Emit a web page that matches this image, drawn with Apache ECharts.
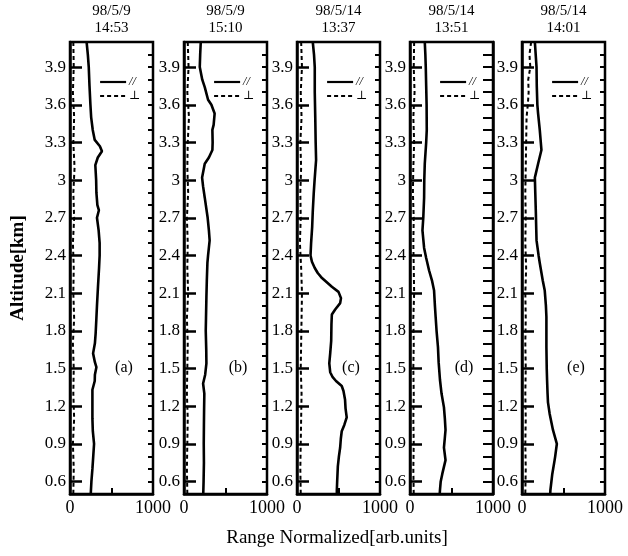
<!DOCTYPE html>
<html>
<head>
<meta charset="utf-8">
<script src="https://cdn.jsdelivr.net/npm/echarts@6/dist/echarts.min.js"></script>
<style>
  html, body { margin: 0; padding: 0; background: #fff; }
  #chart { width: 628px; height: 556px; }
</style>
</head>
<body>
<div id="chart"></div>
<script>
// Lidar return profiles: altitude [km] vs range-normalized signal [arb. units]
const panelDates = ['98/5/9', '98/5/9', '98/5/14', '98/5/14', '98/5/14'];
const panelTimes = ['14:53', '15:10', '13:37', '13:51', '14:01'];
const panelTags = ['(a)', '(b)', '(c)', '(d)', '(e)'];
const altTicks = [0.6, 0.9, 1.2, 1.5, 1.8, 2.1, 2.4, 2.7, 3, 3.3, 3.6, 3.9];
const signalTicks = [0, 1000];
const seriesNames = ['//', '\u22A5'];

// parallel channel: [altitude, signal]
const paraA = [[4.1,200],[4.0,215],[3.9,226],[3.75,235],[3.6,246],[3.5,255],[3.4,274],[3.32,298],[3.27,360],[3.23,385],[3.18,335],[3.12,305],[3.0,315],[2.9,318],[2.8,330],[2.76,348],[2.7,325],[2.6,345],[2.5,357],[2.4,357],[2.3,350],[2.15,337],[2.0,325],[1.9,318],[1.78,309],[1.7,300],[1.62,278],[1.55,300],[1.51,318],[1.45,300],[1.4,298],[1.33,270],[1.25,270],[1.1,270],[1.0,275],[0.9,290],[0.8,280],[0.7,270],[0.6,258],[0.5,250]];
const paraB = [[4.1,202],[4.0,195],[3.9,190],[3.8,220],[3.74,250],[3.64,290],[3.6,330],[3.53,369],[3.44,357],[3.4,342],[3.3,345],[3.24,342],[3.18,300],[3.13,250],[3.02,218],[2.95,230],[2.86,250],[2.7,285],[2.6,300],[2.52,309],[2.4,290],[2.34,282],[2.2,275],[2.07,270],[1.9,265],[1.8,262],[1.65,268],[1.54,270],[1.45,255],[1.38,230],[1.3,245],[1.17,242],[1.05,240],[0.9,238],[0.75,240],[0.6,236],[0.5,232]];
const paraC = [[4.1,190],[4.0,205],[3.9,214],[3.7,214],[3.5,220],[3.3,225],[3.16,230],[3.0,212],[2.9,202],[2.75,190],[2.63,183],[2.5,170],[2.4,163],[2.35,180],[2.3,214],[2.26,250],[2.22,301],[2.15,420],[2.11,500],[2.06,530],[2.02,520],[1.97,460],[1.93,420],[1.85,415],[1.72,412],[1.62,400],[1.54,389],[1.47,400],[1.43,430],[1.4,470],[1.36,539],[1.32,560],[1.25,579],[1.18,585],[1.11,599],[1.05,570],[1.0,539],[0.94,528],[0.87,520],[0.8,505],[0.72,492],[0.6,484],[0.53,480],[0.5,480]];
const paraD = [[4.1,178],[4.0,185],[3.9,190],[3.75,195],[3.6,200],[3.4,202],[3.3,195],[3.13,178],[3.0,172],[2.86,170],[2.7,160],[2.6,150],[2.46,170],[2.38,195],[2.28,230],[2.2,265],[2.12,290],[2.0,300],[1.91,309],[1.8,320],[1.67,337],[1.55,345],[1.41,361],[1.3,380],[1.19,409],[1.1,420],[1.01,428],[0.95,420],[0.87,409],[0.77,428],[0.66,389],[0.6,370],[0.53,361],[0.5,358]];
const paraE = [[4.1,155],[4.0,165],[3.9,175],[3.75,178],[3.6,185],[3.53,194],[3.4,214],[3.24,234],[3.13,194],[3.02,155],[2.9,160],[2.74,167],[2.6,172],[2.52,175],[2.4,200],[2.34,214],[2.2,250],[2.12,274],[2.0,288],[1.91,294],[1.67,294],[1.5,298],[1.41,302],[1.3,308],[1.23,313],[1.14,333],[1.01,373],[0.9,420],[0.8,400],[0.77,393],[0.66,365],[0.53,342],[0.5,340]];

// perpendicular channel: [altitude, signal]
const perpA = [[4.1,40],[3.9,45],[3.7,35],[3.5,50],[3.3,40],[3.1,55],[2.9,40],[2.7,50],[2.5,35],[2.3,45],[2.1,40],[1.9,50],[1.7,35],[1.5,45],[1.3,40],[1.1,50],[0.9,35],[0.7,45],[0.5,40]];
const perpB = [[4.1,45],[3.9,55],[3.7,40],[3.5,60],[3.3,45],[3.1,40],[2.9,50],[2.7,35],[2.5,45],[2.3,40],[2.1,50],[1.9,35],[1.7,45],[1.5,40],[1.3,35],[1.1,45],[0.9,40],[0.7,35],[0.5,40]];
const perpC = [[4.1,50],[3.9,60],[3.7,45],[3.5,55],[3.3,40],[3.1,50],[2.9,40],[2.7,45],[2.5,35],[2.3,50],[2.1,60],[1.9,55],[1.7,50],[1.5,45],[1.3,55],[1.1,50],[0.9,45],[0.7,40],[0.5,45]];
const perpD = [[4.1,50],[3.9,45],[3.7,55],[3.5,40],[3.3,50],[3.1,40],[2.9,35],[2.7,45],[2.5,40],[2.3,45],[2.1,50],[1.9,40],[1.7,45],[1.5,40],[1.3,45],[1.1,40],[0.9,45],[0.7,40],[0.5,45]];
const perpE = [[4.1,110],[4.0,90],[3.9,100],[3.8,75],[3.7,80],[3.6,70],[3.5,55],[3.3,50],[3.1,45],[2.9,40],[2.7,45],[2.5,40],[2.3,50],[2.1,40],[1.9,45],[1.7,40],[1.5,45],[1.3,40],[1.1,45],[0.9,40],[0.7,45],[0.5,40]];

const paraData = [paraA, paraB, paraC, paraD, paraE];
const perpData = [perpA, perpB, perpC, perpD, perpE];

// layout
const panelLeft = [70, 184, 297, 410, 522];
const panelWidth = 83;
const panelTop = 42;
const panelHeight = 452;
const altMin = 0.5, altMax = 4.1;
const serif = '"Liberation Serif", "DejaVu Serif", serif';

const grid = [], xAxis = [], yAxis = [], series = [], legend = [], graphic = [];

panelLeft.forEach((left, i) => {
  grid.push({
    left: left, top: panelTop, width: panelWidth, height: panelHeight,
    show: true, borderColor: '#000', borderWidth: 2.5, backgroundColor: 'transparent'
  });
  xAxis.push({
    type: 'value', gridIndex: i, min: signalTicks[0], max: signalTicks[1], interval: 500,
    axisLine: { show: true, lineStyle: { color: '#000', width: 2.5 } },
    axisTick: { show: true, inside: true, length: 6, lineStyle: { color: '#000', width: 2 } },
    splitLine: { show: false },
    axisLabel: {
      color: '#000', fontFamily: serif, fontSize: 18, margin: 5,
      formatter: v => (signalTicks.indexOf(v) >= 0 ? String(v) : '')
    }
  });
  // labelled altitude axis with major ticks
  yAxis.push({
    type: 'value', gridIndex: i, min: altMin, max: altMax,
    axisLine: { show: true, lineStyle: { color: '#000', width: 2.5 } },
    axisTick: { show: true, inside: true, length: 12, customValues: altTicks, lineStyle: { color: '#000', width: 2.5 } },
    axisLabel: { color: '#000', fontFamily: serif, fontSize: 17, margin: 4, customValues: altTicks },
    splitLine: { show: false }
  });
  // fine altitude ticks
  yAxis.push({
    type: 'value', gridIndex: i, min: altMin, max: altMax, interval: 0.1,
    axisLine: { show: false },
    axisTick: { show: true, inside: true, length: 5, lineStyle: { color: '#000', width: 2 } },
    axisLabel: { show: false },
    splitLine: { show: false }
  });
  const yFine = yAxis.length - 1;
  series.push({
    name: seriesNames[0], type: 'line', xAxisIndex: i, yAxisIndex: yFine,
    data: paraData[i].map(p => [p[1], p[0]]),
    showSymbol: false, symbol: 'none', animation: false,
    lineStyle: { color: '#000', width: 2.6, type: 'solid' }, itemStyle: { color: '#000' }
  });
  series.push({
    name: seriesNames[1], type: 'line', xAxisIndex: i, yAxisIndex: yFine,
    data: perpData[i].map(p => [p[1], p[0]]),
    showSymbol: false, symbol: 'none', animation: false,
    lineStyle: { color: '#000', width: 2, type: [4, 3] }, itemStyle: { color: '#000' }
  });
  legend.push({
    data: seriesNames, left: left + 29, top: 76, orient: 'vertical',
    itemWidth: 26, itemHeight: 12, itemGap: 2, padding: 0, selectedMode: false,
    itemStyle: { color: 'transparent', borderWidth: 0, opacity: 0 },
    lineStyle: { width: 2.2 },
    textStyle: { color: '#000', fontFamily: serif, fontSize: 12, fontStyle: 'italic', padding: [0, 0, 0, -2] }
  });
  graphic.push({
    type: 'text', x: left + panelWidth / 2, y: 3,
    style: { text: panelDates[i] + '\n' + panelTimes[i], fill: '#000', font: '15px ' + serif, align: 'center', lineHeight: 17 }
  });
  graphic.push({
    type: 'text', x: left + 54, y: 368,
    style: { text: panelTags[i], fill: '#000', font: '16px ' + serif, align: 'center', verticalAlign: 'middle' }
  });
});

// right-hand tick scale on panel (d)
yAxis.push({
  type: 'value', gridIndex: 3, position: 'right', min: altMin, max: altMax, interval: 0.1,
  axisLine: { show: true, lineStyle: { color: '#000', width: 2.5 } },
  axisTick: { show: true, inside: true, length: 10, lineStyle: { color: '#000', width: 2 } },
  axisLabel: { show: false }, splitLine: { show: false }
});

graphic.push({
  type: 'text', x: 337, y: 538,
  style: { text: 'Range Normalized[arb.units]', fill: '#000', font: '19px ' + serif, align: 'center', verticalAlign: 'middle' }
});
graphic.push({
  type: 'text', x: 18, y: 268, rotation: Math.PI / 2,
  style: { text: 'Altitude[km]', fill: '#000', font: 'bold 19px ' + serif, align: 'center', verticalAlign: 'middle' }
});

const chart = echarts.init(document.getElementById('chart'), null, { renderer: 'canvas' });
chart.setOption({
  backgroundColor: '#fff',
  animation: false,
  grid, xAxis, yAxis, series, legend, graphic
});
</script>
</body>
</html>
